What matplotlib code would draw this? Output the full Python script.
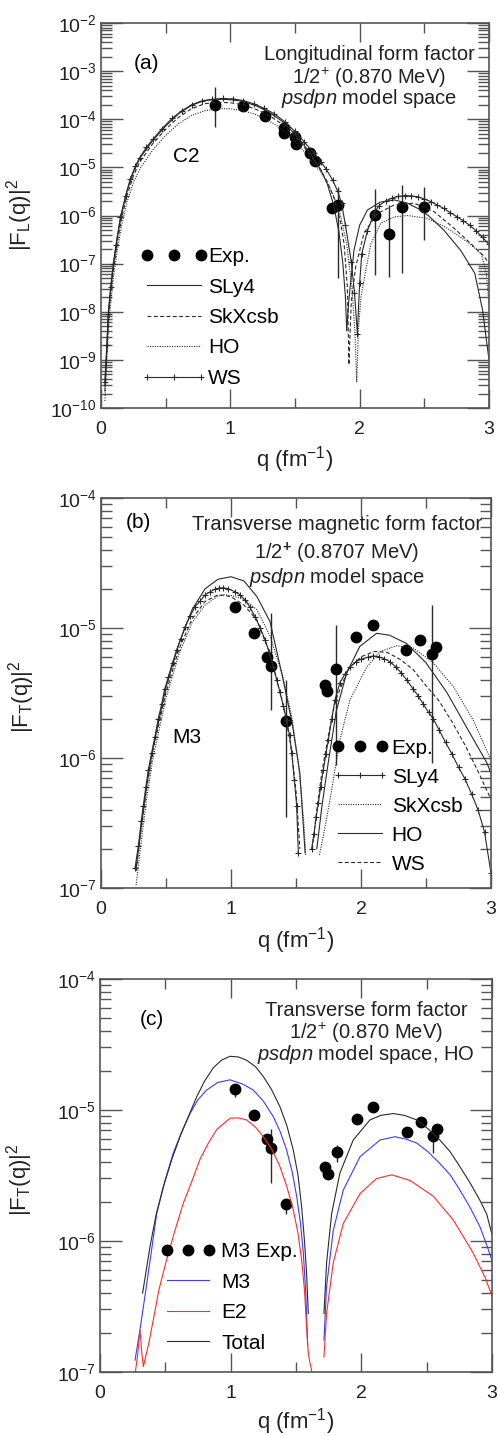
import numpy as np
import matplotlib
matplotlib.use("Agg")
from matplotlib import pyplot as plt
from matplotlib.lines import Line2D
from matplotlib.legend_handler import HandlerLine2D
from matplotlib.ticker import LogLocator, MultipleLocator, NullFormatter

plt.rcParams['font.family'] = ['Liberation Sans', 'DejaVu Sans']
plt.rcParams['mathtext.fontset'] = 'custom'
plt.rcParams['mathtext.rm'] = 'Liberation Sans'
plt.rcParams['mathtext.it'] = 'Liberation Sans:italic'
plt.rcParams['mathtext.bf'] = 'Liberation Sans:bold'

nan = np.nan

# ---------------- panel (a): longitudinal C2 ----------------
qa_exp = [0.878, 1.098, 1.266, 1.415, 1.417, 1.498, 1.508, 1.616, 1.651,
          1.785, 1.835, 2.117, 2.224, 2.331, 2.494]
fa_exp = [1.97e-4, 1.88e-4, 1.17e-4, 6.6e-5, 5.2e-5, 4.2e-5, 3.05e-5, 1.98e-5,
          1.38e-5, 1.43e-6, 1.64e-6, 1.02e-6, 4.1e-7, 1.47e-6, 1.47e-6]
qa_err = [0.878, 1.835, 2.117, 2.224, 2.331, 2.494]
fa_lo = [7.0e-5, 5.0e-8, 5.8e-8, 5.4e-8, 6.5e-8, 3.1e-7]
fa_hi = [4.6e-4, 4.0e-6, 3.6e-6, 1.66e-6, 4.3e-6, 4.0e-6]

qa_ws = [0.03, 0.045, 0.055, 0.075, 0.095, 0.115, 0.15, 0.19, 0.225, 0.265,
         0.3, 0.35, 0.4, 0.47, 0.55, 0.625, 0.7, 0.78, 0.86, 0.94,
         1.02, 1.1, 1.18, 1.26, 1.34, 1.42, 1.5, 1.57, 1.65, 1.7,
         1.74, 1.79, 1.83, 1.86, 1.89, 1.935, 1.96, 1.982, 2.0, 2.016,
         2.06, 2.11, 2.15, 2.2, 2.25, 2.3, 2.35, 2.4, 2.45, 2.5,
         2.55, 2.6, 2.65, 2.7, 2.75, 2.8, 2.85, 2.9, 2.95, 3.0]
fa_ws = [3.5e-10, 2.0e-9, 8.9e-9, 3.3e-8, 1.0e-7, 2.4e-7, 9.3e-7, 2.5e-6, 5.6e-6, 1.05e-5,
         1.6e-5, 2.6e-5, 3.8e-5, 6.3e-5, 1.05e-4, 1.5e-4, 2.0e-4, 2.4e-4, 2.6e-4, 2.7e-4,
         2.65e-4, 2.45e-4, 2.1e-4, 1.7e-4, 1.3e-4, 8.9e-5, 5.6e-5, 3.4e-5, 1.95e-5, 1.3e-5,
         9.3e-6, 5.5e-6, 3.2e-6, 1.8e-6, 6.3e-7, 1.1e-7, 2.5e-8, 3.5e-9, 4.0e-8, 1.6e-7,
         4.8e-7, 1.1e-6, 1.6e-6, 2.0e-6, 2.3e-6, 2.5e-6, 2.6e-6, 2.55e-6, 2.45e-6, 2.2e-6,
         1.95e-6, 1.65e-6, 1.4e-6, 1.15e-6, 9.5e-7, 7.8e-7, 6.3e-7, 4.8e-7, 3.5e-7, 2.5e-7]

qa_sly4 = [0.03, 0.045, 0.06, 0.08, 0.1, 0.13, 0.16, 0.2, 0.25, 0.3,
           0.4, 0.5, 0.6, 0.7, 0.8, 0.9, 1.0, 1.1, 1.2, 1.3,
           1.4, 1.5, 1.6, 1.7, 1.75, 1.8, 1.84, 1.87, 1.89, 1.9,
           1.915, 1.93, 1.956, 2.0, 2.06, 2.16, 2.27, 2.37, 2.45, 2.53,
           2.65, 2.78, 2.89, 2.95, 2.99, 3.0]
fa_sly4 = [2.8e-10, 1.8e-9, 1.1e-8, 4.0e-8, 1.1e-7, 4.0e-7, 1.1e-6, 3.2e-6, 7.9e-6, 1.55e-5,
           3.6e-5, 7.2e-5, 1.3e-4, 1.95e-4, 2.45e-4, 2.6e-4, 2.55e-4, 2.35e-4, 1.9e-4, 1.4e-4,
           9.1e-5, 4.9e-5, 2.3e-5, 8.9e-6, 4.5e-6, 1.6e-6, 4.5e-7, 1.0e-7, 2.0e-8, 4.0e-9,
           1.6e-8, 4.0e-8, 1.9e-7, 6.3e-7, 1.3e-6, 1.9e-6, 2.1e-6, 1.8e-6, 1.4e-6, 1.0e-6,
           5.0e-7, 1.9e-7, 6.3e-8, 1.1e-8, 1.6e-9, 1.0e-9]

qa_skx = [0.03, 0.045, 0.06, 0.08, 0.1, 0.13, 0.16, 0.2, 0.25, 0.3,
          0.4, 0.5, 0.6, 0.7, 0.8, 0.9, 1.0, 1.1, 1.2, 1.3,
          1.4, 1.5, 1.6, 1.7, 1.75, 1.8, 1.85, 1.88, 1.905, 1.917,
          1.935, 1.969, 2.033, 2.137, 2.266, 2.42, 2.576, 2.731, 2.86, 2.964, 3.0]
fa_skx = [2.2e-10, 1.4e-9, 8.9e-9, 3.2e-8, 8.9e-8, 3.2e-7, 8.9e-7, 2.6e-6, 6.6e-6, 1.3e-5,
          3.1e-5, 6.2e-5, 1.1e-4, 1.65e-4, 2.1e-4, 2.25e-4, 2.2e-4, 2.0e-4, 1.6e-4, 1.2e-4,
          7.9e-5, 4.4e-5, 2.1e-5, 8.7e-6, 5.0e-6, 2.4e-6, 7.9e-7, 2.5e-7, 3.2e-8, 7.9e-10,
          1.6e-8, 8.5e-8, 4.3e-7, 1.1e-6, 1.65e-6, 1.8e-6, 1.2e-6, 5.4e-7, 2.6e-7, 1.4e-7, 1.0e-7]

qa_ho = [0.03, 0.045, 0.06, 0.08, 0.1, 0.13, 0.16, 0.2, 0.25, 0.3,
         0.4, 0.5, 0.6, 0.7, 0.8, 0.9, 1.0, 1.1, 1.2, 1.3,
         1.4, 1.5, 1.6, 1.7, 1.75, 1.8, 1.85, 1.9, 1.94, 1.965,
         1.977, 1.99, 2.01, 2.033, 2.085, 2.163, 2.266, 2.37, 2.525, 2.68,
         2.835, 2.94, 2.98, 3.0]
fa_ho = [1.4e-10, 1.0e-9, 5.6e-9, 2.0e-8, 6.3e-8, 2.2e-7, 6.3e-7, 1.9e-6, 4.8e-6, 9.3e-6,
         2.3e-5, 4.6e-5, 8.1e-5, 1.2e-4, 1.5e-4, 1.65e-4, 1.65e-4, 1.5e-4, 1.25e-4, 9.3e-5,
         6.2e-5, 3.5e-5, 1.75e-5, 7.9e-6, 4.8e-6, 2.5e-6, 1.05e-6, 2.5e-7, 3.2e-8, 3.2e-9,
         3.5e-10, 4.0e-9, 2.0e-8, 4.5e-8, 2.5e-7, 6.9e-7, 9.3e-7, 1.0e-6, 8.7e-7, 5.4e-7,
         2.8e-7, 1.6e-7, 6.3e-8, 1.4e-8]

# ---------------- transverse experimental data (b), (c) ----------------
qt_exp = [1.03, 1.18, 1.278, 1.31, 1.424, 1.724, 1.742, 1.81, 1.964, 2.093,
          2.348, 2.455, 2.549, 2.578]
ft_exp = [1.44e-5, 9.1e-6, 6.0e-6, 5.1e-6, 1.93e-6, 3.65e-6, 3.25e-6, 4.8e-6, 8.5e-6, 1.06e-5,
          6.8e-6, 8.1e-6, 6.3e-6, 7.2e-6]
qb_err = [1.31, 1.424, 1.81, 2.549]
fb_lo = [2.35e-6, 3.5e-7, 8.9e-7, 9.1e-7]
fb_hi = [1.3e-5, 4.0e-6, 1.05e-5, 1.5e-5]
qc_err = [1.03, 1.31, 1.424, 1.81, 2.549]
fc_lo = [1.25e-5, 2.75e-6, 1.62e-6, 4.0e-6, 4.7e-6]
fc_hi = [1.55e-5, 7.2e-6, 2.1e-6, 5.4e-6, 7.0e-6]

# ---------------- panel (b): M3 curves ----------------
qb_sly4 = [0.262, 0.287, 0.31, 0.325, 0.345, 0.364, 0.39, 0.415, 0.44, 0.467,
           0.49, 0.518, 0.55, 0.582, 0.615, 0.646, 0.685, 0.723, 0.76, 0.8,
           0.84, 0.877, 0.91, 0.941, 0.98, 1.031, 1.07, 1.108, 1.145, 1.185,
           1.225, 1.262, 1.295, 1.326, 1.352, 1.377, 1.403, 1.428, 1.45, 1.467,
           1.487, 1.505, 1.518, nan,
           1.62, 1.638, 1.655, 1.672, 1.69, 1.71, 1.73, 1.749, 1.775, 1.8,
           1.838, 1.875, 1.915, 1.96, 2.0, 2.05, 2.095, 2.14, 2.18, 2.223,
           2.27, 2.31, 2.351, 2.4, 2.44, 2.479, 2.52, 2.556, 2.6, 2.65,
           2.7, 2.75, 2.8, 2.85, 2.9, 2.95, 3.0]
fb_sly4 = [1.43e-7, 2.1e-7, 3.3e-7, 4.3e-7, 6.0e-7, 8.1e-7, 1.1e-6, 1.46e-6, 2.0e-6, 2.6e-6,
           3.4e-6, 4.2e-6, 5.4e-6, 6.8e-6, 8.3e-6, 1.02e-5, 1.23e-5, 1.46e-5, 1.6e-5, 1.8e-5,
           1.9e-5, 1.99e-5, 2.03e-5, 2.04e-5, 2.0e-5, 1.9e-5, 1.8e-5, 1.64e-5, 1.45e-5, 1.22e-5,
           1.0e-5, 8.1e-6, 6.5e-6, 5.0e-6, 4.0e-6, 3.2e-6, 2.5e-6, 1.95e-6, 1.5e-6, 1.1e-6,
           6.8e-7, 4.3e-7, 1.85e-7, nan,
           2.0e-7, 2.6e-7, 3.5e-7, 4.5e-7, 6.0e-7, 8.1e-7, 1.07e-6, 1.38e-6, 2.0e-6, 2.8e-6,
           3.8e-6, 4.4e-6, 5.0e-6, 5.5e-6, 5.75e-6, 5.95e-6, 6.1e-6, 6.0e-6, 5.8e-6, 5.5e-6,
           5.0e-6, 4.5e-6, 4.0e-6, 3.4e-6, 3.0e-6, 2.6e-6, 2.24e-6, 2.0e-6, 1.65e-6, 1.32e-6,
           1.07e-6, 8.5e-7, 6.9e-7, 5.3e-7, 4.0e-7, 2.7e-7, 1.3e-7]

qb_skx = [0.27, 0.3, 0.35, 0.4, 0.5, 0.6, 0.7, 0.8, 0.9, 0.95,
          1.0, 1.1, 1.2, 1.3, 1.4, 1.47, 1.52, 1.56, 1.575, nan,
          1.68, 1.71, 1.762, 1.838, 1.915, 2.044, 2.146, 2.275, 2.403, 2.556,
          2.71, 2.864, 2.992, 3.0]
fb_skx = [1.05e-7, 1.9e-7, 4.8e-7, 1.0e-6, 2.9e-6, 6.3e-6, 1.1e-5, 1.5e-5, 1.76e-5, 1.8e-5,
          1.78e-5, 1.66e-5, 1.38e-5, 8.7e-6, 4.2e-6, 2.0e-6, 8.9e-7, 3.2e-7, 1.8e-7, nan,
          1.8e-7, 2.5e-7, 4.8e-7, 1.38e-6, 2.8e-6, 5.0e-6, 6.6e-6, 7.3e-6, 7.0e-6, 5.4e-6,
          3.55e-6, 1.95e-6, 1.0e-6, 9.5e-7]

qb_ho = [0.27, 0.3, 0.35, 0.4, 0.5, 0.6, 0.7, 0.8, 0.9, 1.0,
         1.1, 1.2, 1.3, 1.39, 1.47, 1.53, 1.57, nan,
         1.66, 1.7, 1.75, 1.81, 1.89, 1.99, 2.12, 2.22, 2.35, 2.5,
         2.66, 2.81, 2.97, 3.0]
fb_ho = [1.4e-7, 2.5e-7, 6.0e-7, 1.2e-6, 3.5e-6, 7.6e-6, 1.38e-5, 2.0e-5, 2.37e-5, 2.48e-5,
         2.3e-5, 1.74e-5, 1.12e-5, 4.5e-6, 1.86e-6, 7.6e-7, 1.86e-7, nan,
         2.0e-7, 4.3e-7, 9.5e-7, 2.3e-6, 4.5e-6, 7.2e-6, 9.1e-6, 8.8e-6, 7.6e-6, 5.4e-6,
         3.2e-6, 1.74e-6, 9.1e-7, 7.6e-7]

qb_ws = [0.27, 0.3, 0.35, 0.4, 0.5, 0.6, 0.7, 0.8, 0.9, 0.95,
         1.0, 1.1, 1.2, 1.3, 1.4, 1.46, 1.5, 1.53, nan,
         1.625, 1.66, 1.7, 1.75, 1.8, 1.9, 2.0, 2.1, 2.2, 2.3,
         2.4, 2.5, 2.6, 2.7, 2.8, 2.9, 3.0]
fb_ws = [1.35e-7, 2.4e-7, 5.8e-7, 1.15e-6, 3.2e-6, 6.9e-6, 1.17e-5, 1.6e-5, 1.8e-5, 1.78e-5,
         1.74e-5, 1.5e-5, 1.15e-5, 6.3e-6, 2.6e-6, 1.26e-6, 5.6e-7, 2.0e-7, nan,
         2.0e-7, 4.0e-7, 7.9e-7, 1.5e-6, 2.7e-6, 4.8e-6, 6.0e-6, 6.6e-6, 6.5e-6, 5.75e-6,
         4.8e-6, 3.6e-6, 2.75e-6, 1.9e-6, 1.26e-6, 7.9e-7, 4.8e-7]

# ---------------- panel (c): HO, M3 + E2 ----------------
qc_tot = [0.326, 0.383, 0.43, 0.485, 0.55, 0.612, 0.68, 0.74, 0.8, 0.867,
          0.93, 0.995, 1.06, 1.122, 1.19, 1.25, 1.31, 1.377, 1.43, 1.479,
          1.515, 1.543, 1.565, 1.581, 1.594, nan,
          1.714, 1.734, 1.773, 1.836, 1.938, 2.066, 2.15, 2.244, 2.33, 2.423,
          2.51, 2.601, 2.68, 2.754, 2.83, 2.907, 2.96, 3.0]
fc_tot = [4.0e-7, 9.1e-7, 1.6e-6, 2.6e-6, 4.2e-6, 6.25e-6, 9.1e-6, 1.26e-5, 1.66e-5, 2.1e-5,
          2.4e-5, 2.57e-5, 2.54e-5, 2.4e-5, 2.14e-5, 1.8e-5, 1.45e-5, 1.06e-5, 7.6e-6, 4.95e-6,
          3.2e-6, 1.83e-6, 1.0e-6, 5.7e-7, 2.8e-7, nan,
          2.8e-7, 6.8e-7, 1.62e-6, 3.3e-6, 5.9e-6, 8.4e-6, 9.1e-6, 9.4e-6, 9.1e-6, 8.4e-6,
          7.2e-6, 5.9e-6, 4.8e-6, 3.7e-6, 2.8e-6, 2.05e-6, 1.6e-6, 1.12e-6]

qc_m3 = [0.268, 0.306, 0.344, 0.39, 0.434, 0.5, 0.561, 0.625, 0.689, 0.75,
         0.816, 0.9, 0.995, 1.09, 1.173, 1.25, 1.326, 1.38, 1.428, 1.47,
         1.505, 1.535, 1.556, 1.575, 1.589, nan,
         1.714, 1.734, 1.785, 1.862, 1.99, 2.143, 2.257, 2.34, 2.423, 2.51,
         2.601, 2.68, 2.754, 2.83, 2.907, 2.96, 3.0]
fc_m3 = [1.23e-7, 2.1e-7, 3.8e-7, 7.9e-7, 1.62e-6, 2.95e-6, 4.7e-6, 6.8e-6, 9.4e-6, 1.2e-5,
         1.42e-5, 1.62e-5, 1.7e-5, 1.58e-5, 1.42e-5, 1.17e-5, 8.9e-6, 6.8e-6, 4.95e-6, 3.4e-6,
         2.2e-6, 1.35e-6, 8.1e-7, 4.0e-7, 1.6e-7, nan,
         1.75e-7, 4.5e-7, 1.2e-6, 2.45e-6, 4.4e-6, 5.9e-6, 6.25e-6, 6.0e-6, 5.6e-6, 4.8e-6,
         3.9e-6, 3.2e-6, 2.45e-6, 1.82e-6, 1.29e-6, 9.3e-7, 7.1e-7]

qc_e2 = [0.268, 0.29, 0.306, 0.32, 0.332, 0.37, 0.408, 0.45, 0.51, 0.57,
         0.638, 0.7, 0.765, 0.83, 0.893, 0.995, 1.06, 1.122, 1.19, 1.25,
         1.32, 1.377, 1.43, 1.479, 1.515, 1.543, 1.565, 1.581, 1.594, 1.607,
         1.62, nan,
         1.714, 1.734, 1.785, 1.862, 1.99, 2.117, 2.232, 2.372, 2.55, 2.703,
         2.856, 2.95, 3.0]
fc_e2 = [9.5e-8, 1.4e-7, 2.1e-7, 1.4e-7, 1.1e-7, 1.6e-7, 2.5e-7, 4.2e-7, 7.2e-7, 1.17e-6,
         1.95e-6, 2.8e-6, 4.2e-6, 5.6e-6, 7.1e-6, 8.65e-6, 8.7e-6, 8.4e-6, 7.4e-6, 6.25e-6,
         4.9e-6, 3.7e-6, 2.6e-6, 1.73e-6, 1.15e-6, 7.2e-7, 4.2e-7, 2.2e-7, 1.4e-7, 1.17e-7,
         1.02e-7, nan,
         1.3e-7, 2.8e-7, 6.8e-7, 1.36e-6, 2.3e-6, 3.0e-6, 3.2e-6, 2.9e-6, 2.2e-6, 1.45e-6,
         8.1e-7, 5.2e-7, 3.8e-7]

W, H = 499, 1436
fig = plt.figure(figsize=(W / 100, H / 100), dpi=100)
ink = '#2a2a2a'
spine = '#555555'
# markers spread over the whole legend handle, as in the original
hmap = {Line2D: HandlerLine2D(marker_pad=0.05)}


def px_axes(l, t, r, b):
    return fig.add_axes([l / W, 1 - b / H, (r - l) / W, (b - t) / H])


def style_axes(ax, dec_lo, dec_hi):
    ax.set_yscale('log')
    ax.set_xlim(0, 3)
    ax.set_ylim(10.0 ** dec_lo, 10.0 ** dec_hi)
    decs = list(range(dec_lo, dec_hi + 1))
    ax.set_yticks([10.0 ** k for k in decs])
    ax.set_yticklabels([rf'$10^{{{k}}}$' for k in decs])
    ax.yaxis.set_minor_locator(LogLocator(base=10, subs=np.arange(2, 10), numticks=40))
    ax.yaxis.set_minor_formatter(NullFormatter())
    ax.set_xticks([0, 1, 2, 3])
    ax.xaxis.set_minor_locator(MultipleLocator(0.5))
    for s in ax.spines.values():
        s.set_color(spine)
        s.set_linewidth(1.2)
    ax.tick_params(which='both', direction='in', top=True, right=True,
                   color=spine, width=1.0, labelsize=14, labelcolor='#222')
    ax.tick_params(axis='y', which='major', length=16, pad=3)
    ax.tick_params(axis='y', which='minor', length=8)
    ax.tick_params(axis='x', which='major', length=14, pad=9)
    ax.tick_params(axis='x', which='minor', length=7)
    ax.set_xlabel(r'q (fm$^{-1}$)', fontsize=16, color='#222')
    ax.xaxis.set_label_coords(0.5, -0.095)


def exp_points(ax, q, f, qe, lo, hi, label):
    ax.vlines(qe, lo, hi, color=ink, lw=1.0)
    ax.plot(q, f, 'o', ls='none', color='black', ms=7.5, label=label)


def titles(ax, x, ys, lines):
    for y, s in zip(ys, lines):
        ax.text(x, y, s, transform=ax.transAxes, ha='center', va='center',
                fontsize=14.5, color='#222')


lw = 0.8

# ---------- (a) ----------
ax = px_axes(101, 23, 489, 408)
style_axes(ax, -10, -2)
exp_points(ax, qa_exp, fa_exp, qa_err, fa_lo, fa_hi, 'Exp.')
ax.plot(qa_sly4, fa_sly4, '-', color=ink, lw=lw, label='SLy4')
ax.plot(qa_skx, fa_skx, color=ink, lw=lw, ls=(0, (3.5, 2.2)), label='SkXcsb')
ax.plot(qa_ho, fa_ho, color=ink, lw=lw, ls=(0, (1, 1.2)), label='HO')
ax.plot(qa_ws, fa_ws, '-', color=ink, lw=lw, marker='+', ms=5, mew=0.8, label='WS')
ax.set_ylabel(r'|F$_{\rm L}$(q)|$^2$', fontsize=16, color='#222')
ax.yaxis.set_label_coords(-0.17, 0.5)
ax.text(0.118, 0.895, '(a)', transform=ax.transAxes, ha='center', va='center', fontsize=15)
ax.text(0.221, 0.653, 'C2', transform=ax.transAxes, ha='center', va='center', fontsize=15)
titles(ax, 0.691, [0.917, 0.857, 0.803],
       ['Longitudinal form factor', r'1/2$^{+}$ (0.870 MeV)', r'$\it{psdpn}$ model space'])
ax.legend(loc='upper left', bbox_to_anchor=(0.115, 0.418), frameon=False, numpoints=3,
          fontsize=15, handlelength=2.7, handletextpad=0.3, labelspacing=0.55,
          borderpad=0, borderaxespad=0, handler_map=hmap)

# ---------- (b) ----------
ax = px_axes(101, 498, 491, 888)
style_axes(ax, -7, -4)
exp_points(ax, qt_exp, ft_exp, qb_err, fb_lo, fb_hi, 'Exp.')
ax.plot(qb_sly4, fb_sly4, '-', color=ink, lw=lw, marker='+', ms=5, mew=0.8, label='SLy4')
ax.plot(qb_skx, fb_skx, color=ink, lw=lw, ls=(0, (1, 1.2)), label='SkXcsb')
ax.plot(qb_ho, fb_ho, '-', color=ink, lw=lw, label='HO')
ax.plot(qb_ws, fb_ws, color=ink, lw=lw, ls=(0, (3.5, 2.2)), label='WS')
ax.set_ylabel(r'|F$_{\rm T}$(q)|$^2$', fontsize=16, color='#222')
ax.yaxis.set_label_coords(-0.165, 0.49)
ax.text(0.095, 0.936, '(b)', transform=ax.transAxes, ha='center', va='center', fontsize=15)
ax.text(0.22, 0.385, 'M3', transform=ax.transAxes, ha='center', va='center', fontsize=15)
titles(ax, 0.605, [0.931, 0.858, 0.796],
       ['Transverse magnetic form factor', r'1/2$^{\mathbf{+}}$ (0.8707 MeV)',
        r'$\it{psdpn}$ model space'])
ax.legend(loc='upper left', bbox_to_anchor=(0.605, 0.383), frameon=False, numpoints=3,
          fontsize=15, handlelength=2.2, handletextpad=0.43, labelspacing=0.48,
          borderpad=0, borderaxespad=0, handler_map=hmap)

# ---------- (c) ----------
ax = px_axes(100, 979, 492, 1372)
style_axes(ax, -7, -4)
exp_points(ax, qt_exp, ft_exp, qc_err, fc_lo, fc_hi, 'M3 Exp.')
ax.plot(qc_m3, fc_m3, '-', color='#3c3cff', lw=lw, label='M3')
ax.plot(qc_e2, fc_e2, '-', color='#ff2b2b', lw=lw, label='E2')
ax.plot(qc_tot, fc_tot, '-', color=ink, lw=lw, label='Total')
ax.set_ylabel(r'|F$_{\rm T}$(q)|$^2$', fontsize=16, color='#222')
ax.yaxis.set_label_coords(-0.165, 0.49)
ax.xaxis.set_label_coords(0.5, -0.086)
ax.text(0.132, 0.896, '(c)', transform=ax.transAxes, ha='center', va='center', fontsize=15)
titles(ax, 0.679, [0.921, 0.863, 0.807],
       ['Transverse form factor', r'1/2$^{+}$ (0.870 MeV)',
        r'$\it{psdpn}$ model space, HO'])
ax.legend(loc='upper left', bbox_to_anchor=(0.168, 0.33), frameon=False, numpoints=3,
          fontsize=15, handlelength=2.1, handletextpad=0.55, labelspacing=0.55,
          borderpad=0, borderaxespad=0, handler_map=hmap)

fig.savefig('out.png', dpi=100)
